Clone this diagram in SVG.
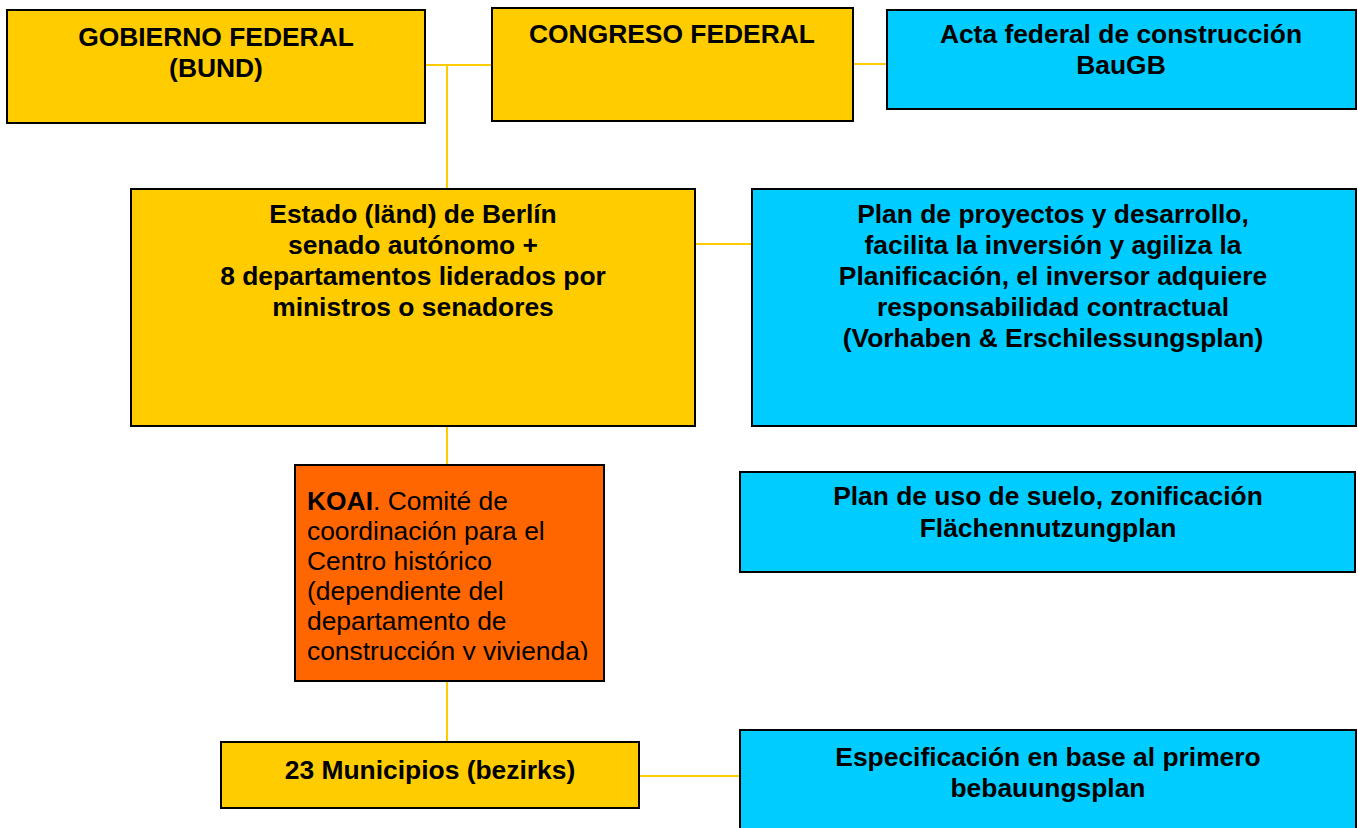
<svg xmlns="http://www.w3.org/2000/svg" width="1358" height="828" viewBox="0 0 1358 828">
<style>
.box{stroke:#000;stroke-width:2}
.y{fill:#FFCC00}.b{fill:#00CCFF}.o{fill:#FF6600}
.t{font-family:"Liberation Sans",Arial,sans-serif;font-size:26.4px;font-weight:bold;fill:#000;text-anchor:middle}
.r{font-family:"Liberation Sans",Arial,sans-serif;font-size:26.4px;fill:#000}
.c{stroke:#FFCC00;stroke-width:2;fill:none}
</style>
<defs><clipPath id="kc"><rect x="296" y="466" width="307" height="194"/></clipPath></defs>
<g id="connectors">
<path class="c" d="M425 65H492M447 65V189M853 64H887M695 244H752M447 426V465M447 681V742M639 776H740"/>
</g>
<g id="gobierno"><rect class="box y" x="7" y="10" width="418" height="113"/>
<text class="t" x="216" y="46">GOBIERNO FEDERAL</text><text class="t" x="216" y="77">(BUND)</text></g>
<g id="congreso"><rect class="box y" x="492" y="8" width="361" height="113"/>
<text class="t" x="672" y="43">CONGRESO FEDERAL</text></g>
<g id="acta"><rect class="box b" x="887" y="10" width="469" height="99"/>
<text class="t" x="1121" y="43">Acta federal de construcción</text><text class="t" x="1121" y="74">BauGB</text></g>
<g id="estado"><rect class="box y" x="131" y="189" width="564" height="237"/>
<text class="t" x="413" y="223">Estado (länd) de Berlín</text>
<text class="t" x="413" y="254">senado autónomo +</text>
<text class="t" x="413" y="285">8 departamentos liderados por</text>
<text class="t" x="413" y="316">ministros o senadores</text></g>
<g id="plan-proyectos"><rect class="box b" x="752" y="189" width="604" height="237"/>
<text class="t" x="1053" y="223">Plan de proyectos y desarrollo,</text>
<text class="t" x="1053" y="254">facilita la inversión y agiliza la</text>
<text class="t" x="1053" y="285">Planificación, el inversor adquiere</text>
<text class="t" x="1053" y="316">responsabilidad contractual</text>
<text class="t" x="1053" y="347">(Vorhaben &amp; Erschilessungsplan)</text></g>
<g id="koai"><rect class="box o" x="295" y="465" width="309" height="216"/>
<g clip-path="url(#kc)">
<text class="r" x="307" y="510"><tspan font-weight="bold">KOAI</tspan>. Comité de</text>
<text class="r" x="307" y="540">coordinación para el</text>
<text class="r" x="307" y="570">Centro histórico</text>
<text class="r" x="307" y="600">(dependiente del</text>
<text class="r" x="307" y="630">departamento de</text>
<text class="r" x="307" y="660">construcción y vivienda)</text>
</g></g>
<g id="plan-uso"><rect class="box b" x="740" y="472" width="615" height="100"/>
<text class="t" x="1048" y="505">Plan de uso de suelo, zonificación</text>
<text class="t" x="1048" y="537">Flächennutzungplan</text></g>
<g id="municipios"><rect class="box y" x="221" y="742" width="418" height="66"/>
<text class="t" x="430" y="779">23 Municipios (bezirks)</text></g>
<g id="especificacion"><rect class="box b" x="740" y="730" width="616" height="110"/>
<text class="t" x="1048" y="766">Especificación en base al primero</text>
<text class="t" x="1048" y="797">bebauungsplan</text></g>
</svg>
